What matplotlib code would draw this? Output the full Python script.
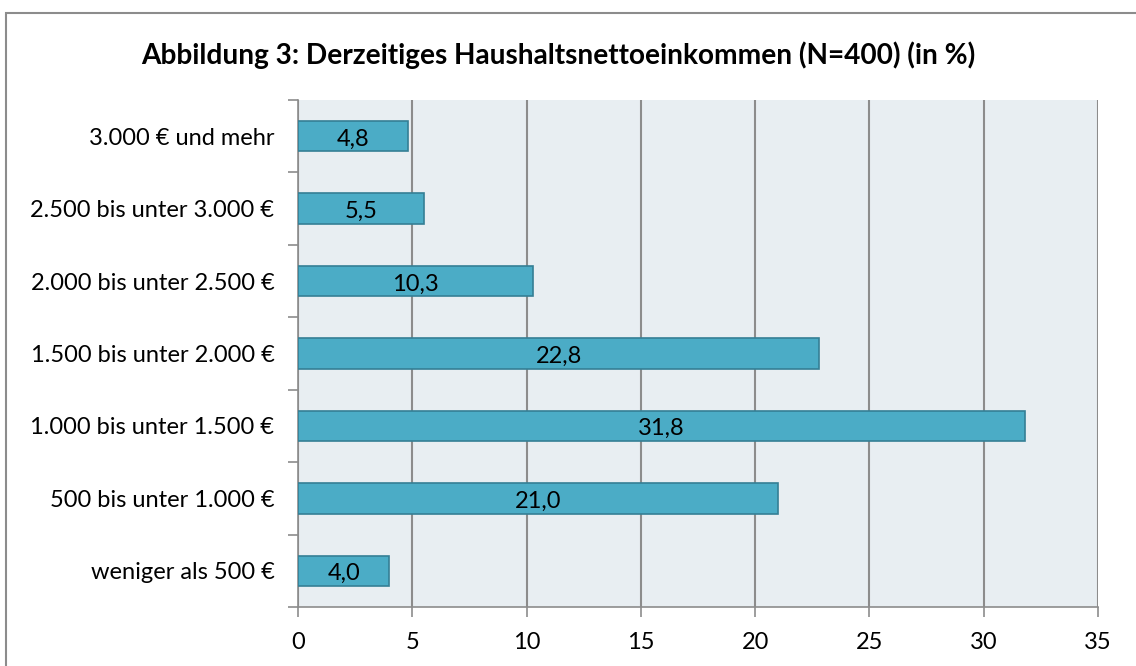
import matplotlib.pyplot as plt
from matplotlib.patches import Rectangle

plt.rcParams['font.family'] = ['Lato', 'DejaVu Sans']

categories = ["weniger als 500 €", "500 bis unter 1.000 €", "1.000 bis unter 1.500 €",
              "1.500 bis unter 2.000 €", "2.000 bis unter 2.500 €",
              "2.500 bis unter 3.000 €", "3.000 € und mehr"]
values = [4.0, 21.0, 31.8, 22.8, 10.3, 5.5, 4.8]
labels = ["4,0", "21,0", "31,8", "22,8", "10,3", "5,5", "4,8"]
xticks = [0, 5, 10, 15, 20, 25, 30, 35]

fig = plt.figure(figsize=(11.36, 6.66), dpi=100)
ax = fig.add_axes([298 / 1136, 1 - 607 / 666, 800 / 1136, 507 / 666])
ax.set_facecolor("#E8EEF2")

y = range(len(categories))
ax.barh(y, values, height=0.42, color="#4BACC6", edgecolor="#357F95", linewidth=1.2, zorder=3)
for i, v in enumerate(values):
    ax.text(v / 2, i - 0.04, labels[i], ha="center", va="center", fontsize=17, zorder=4)

ax.set_xlim(0, 35)
ax.set_ylim(-0.5, len(categories) - 0.5)
ax.set_xticks(xticks)
ax.set_xticklabels([str(t) for t in xticks], fontsize=17)
ax.set_yticks(list(y))
ax.set_yticklabels(categories, fontsize=17)
ax.set_yticks([i - 0.5 for i in range(len(categories) + 1)], minor=True)
ax.tick_params(axis="y", which="major", length=0, pad=17)
ax.tick_params(axis="y", which="minor", length=7, color="#8C8C8C", width=1.2)
ax.tick_params(axis="x", length=7, color="#8C8C8C", width=1.2, pad=11)
ax.grid(axis="x", color="#8C8C8C", linewidth=1.5, zorder=1)
ax.set_axisbelow(True)
for s in ["top", "right"]:
    ax.spines[s].set_visible(False)
for s in ["left", "bottom"]:
    ax.spines[s].set_color("#8C8C8C")
    ax.spines[s].set_linewidth(1.2)

fig.text(558 / 1136, 1 - 55 / 666, "Abbildung 3: Derzeitiges Haushaltsnettoeinkommen (N=400) (in %)",
         ha="center", va="center", fontsize=20.2, fontweight="bold")

fig.patches.append(Rectangle((6 / 1136, -0.1), 1.1, 0.1 + 1 - 13 / 666, transform=fig.transFigure,
                             fill=False, edgecolor="#8C8C8C", linewidth=1.5))

fig.savefig("out.png", dpi=100)
